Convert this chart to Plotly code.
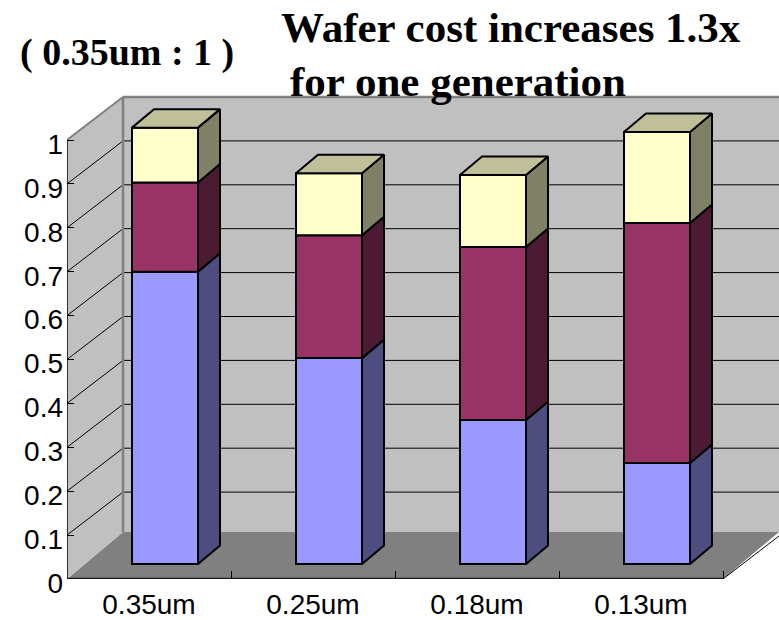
import plotly.graph_objects as go

categories = ["0.35um", "0.25um", "0.18um", "0.13um"]
blue_values = [0.666, 0.469, 0.328, 0.230]
purple_values = [0.203, 0.280, 0.394, 0.547]
yellow_values = [0.125, 0.141, 0.164, 0.207]
y_ticks = [0, 0.1, 0.2, 0.3, 0.4, 0.5, 0.6, 0.7, 0.8, 0.9, 1]
y_tick_labels = ["0", "0.1", "0.2", "0.3", "0.4", "0.5", "0.6", "0.7", "0.8", "0.9", "1"]

W, H = 779, 620
L, B, T = 67, 41, 90
U, V = 164.0, 439.0            # pixels per category / per 1.0
WALL_DX, WALL_DY = 56 / U, 43 / V
FLOOR_DY = 47 / V
BAR_DX, BAR_DY = 16 / U, 15 / V
SIDE_DX, SIDE_DY = 22 / U, 18.5 / V
BAR_W = 66 / U
X0, X1 = -0.5, 3.5
FONT_SANS = "Liberation Sans, Arial, sans-serif"
FONT_SERIF = "Liberation Serif, Times New Roman, serif"

fill_front = ["#9999FF", "#993366", "#FFFFCC"]
fill_side = ["#4D4D80", "#4D1A33", "#808066"]
fill_top = "#BFBF99"
names = ["Blue", "Purple", "Yellow"]
series = [blue_values, purple_values, yellow_values]


def poly(pts):
    return "M" + " L".join(f"{x},{y}" for x, y in pts) + " Z"


shapes = []
def add_poly(pts, fill, line=None, width=0):
    shapes.append(dict(type="path", path=poly(pts), xref="x", yref="y", layer="below",
                       fillcolor=fill, line=dict(color=line or fill, width=width)))
def add_line(p, q, color, width):
    shapes.append(dict(type="line", x0=p[0], y0=p[1], x1=q[0], y1=q[1], xref="x", yref="y",
                       layer="below", line=dict(color=color, width=width)))

# floor, left wall, back wall
add_poly([(X0, 0), (X1, 0), (X1 + WALL_DX, FLOOR_DY), (X0 + WALL_DX, FLOOR_DY)], "#808080")
add_poly([(X0, 0), (X0 + WALL_DX, FLOOR_DY), (X0 + WALL_DX, 1 + WALL_DY), (X0, 1)], "#C0C0C0")
add_poly([(X0 + WALL_DX, FLOOR_DY), (X1 + WALL_DX, FLOOR_DY), (X1 + WALL_DX, 1 + WALL_DY),
          (X0 + WALL_DX, 1 + WALL_DY)], "#C0C0C0")
# gridlines
for t in y_ticks[1:-1]:
    add_line((X0, t), (X0 + WALL_DX, t + WALL_DY), "#000000", 1)
    add_line((X0 + WALL_DX, t + WALL_DY), (X1 + WALL_DX, t + WALL_DY), "#000000", 1)
# wall edges
add_line((X0, 1), (X0 + WALL_DX, 1 + WALL_DY), "#808080", 2)
add_line((X0 + WALL_DX, 1 + WALL_DY), (X1 + WALL_DX, 1 + WALL_DY), "#808080", 2.5)
add_line((X0 + WALL_DX, FLOOR_DY), (X0 + WALL_DX, 1 + WALL_DY), "#808080", 2.5)
# axes
add_line((X1, 0), (X1 + WALL_DX, WALL_DY), "#000000", 1)
add_line((X0, 0), (X0, 1), "#000000", 1.5)
add_line((X0, 0), (X1, 0), "#1a1a1a", 2.5)

fig = go.Figure()
xs = [i + BAR_DX for i in range(len(categories))]

bases = [0.0] * len(categories)
for s, vals in enumerate(series):
    fig.add_trace(go.Bar(
        x=xs, y=vals, base=[b + BAR_DY for b in bases], width=BAR_W,
        marker=dict(color=fill_front[s], line=dict(color="#000000", width=2)),
        name=names[s], hoverinfo="skip", showlegend=False))
    for i, v in enumerate(vals):
        rx = xs[i] + BAR_W / 2
        lo = bases[i] + BAR_DY
        hi = lo + v
        fig.add_trace(go.Scatter(
            x=[rx, rx + SIDE_DX, rx + SIDE_DX, rx, rx],
            y=[lo, lo + SIDE_DY, hi + SIDE_DY, hi, lo],
            mode="lines", fill="toself", fillcolor=fill_side[s],
            line=dict(color="#000000", width=2), hoverinfo="skip", showlegend=False,
            cliponaxis=False))
    bases = [b + v for b, v in zip(bases, vals)]

for i, total in enumerate(bases):
    lx, rx = xs[i] - BAR_W / 2, xs[i] + BAR_W / 2
    hi = total + BAR_DY
    fig.add_trace(go.Scatter(
        x=[lx, rx, rx + SIDE_DX, lx + SIDE_DX, lx],
        y=[hi, hi, hi + SIDE_DY, hi + SIDE_DY, hi],
        mode="lines", fill="toself", fillcolor=fill_top,
        line=dict(color="#000000", width=2), hoverinfo="skip", showlegend=False,
        cliponaxis=False))

plot_w = W - L
plot_h = H - B - T
def note(text, px, py, size):
    return dict(text=f"<b>{text}</b>", xref="paper", yref="paper", xanchor="left", yanchor="middle",
                x=(px - L) / plot_w, y=(H - B - py) / plot_h, showarrow=False,
                font=dict(family=FONT_SERIF, size=size, color="#000000"))

fig.update_layout(
    width=W, height=H, autosize=False, barmode="overlay",
    margin=dict(l=L, r=0, t=T, b=B, pad=0),
    paper_bgcolor="#FFFFFF", plot_bgcolor="#FFFFFF", showlegend=False,
    font=dict(family=FONT_SANS, color="#000000"),
    shapes=shapes,
    annotations=[
        note("Wafer cost increases 1.3x", 279, 28, 43),
        note("for one generation", 288, 81, 43),
        note("( 0.35um : 1 )", 18, 53, 38),
    ],
    xaxis=dict(range=[X0, X1 + WALL_DX], tickmode="array", automargin=False,
               tickvals=list(range(len(categories))), ticktext=categories,
               ticks="", showgrid=False, zeroline=False, showline=False,
               ticklabelstandoff=6,
               tickfont=dict(family=FONT_SANS, size=28, color="#000000"),
               minor=dict(tickmode="array", tickvals=[0.5, 1.5, 2.5, 3.5], ticks="inside",
                          ticklen=8, tickwidth=1, tickcolor="#000000", showgrid=False)),
    yaxis=dict(range=[0, (H - B - T) / V], tickmode="array", tickvals=y_ticks, automargin=False,
               ticktext=y_tick_labels, ticks="inside", ticklen=7, tickwidth=1,
               tickcolor="#000000", showgrid=False, zeroline=False, showline=False,
               ticklabelstandoff=3, ticklabelshift=4,
               tickfont=dict(family=FONT_SANS, size=28, color="#000000")),
)
fig.write_html(
    "out.html",
    config={"displayModeBar": False},
    post_script="document.body.style.margin='0';document.documentElement.style.overflow='hidden';",
)
